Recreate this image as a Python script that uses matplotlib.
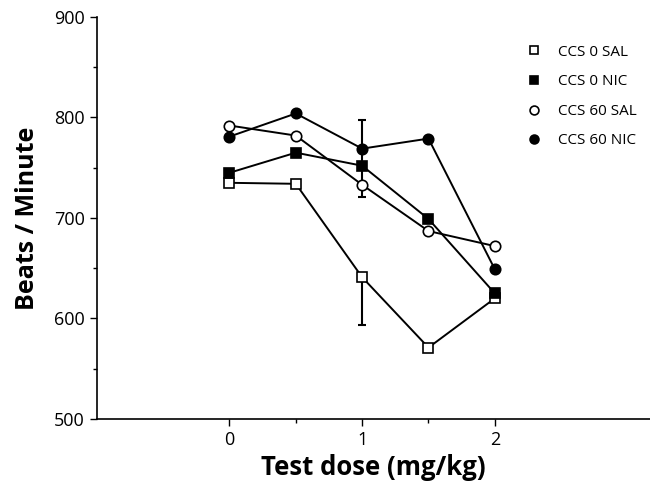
import matplotlib
matplotlib.use("Agg")
import matplotlib.pyplot as plt
from matplotlib.ticker import FixedLocator

dose = [0, 0.5, 1, 1.5, 2]
ccs0_sal = [735, 734, 641, 571, 620]
ccs0_nic = [745, 765, 752, 699, 625]
ccs60_sal = [792, 782, 733, 687, 672]
ccs60_nic = [781, 804, 769, 779, 649]
labels = ["CCS 0 SAL", "CCS 0 NIC", "CCS 60 SAL", "CCS 60 NIC"]

# error bars at dose 1
err_x = [1, 1]
err_lo = [721, 593]
err_hi = [798, 641]

plt.rcParams['font.family'] = ['Open Sans', 'DejaVu Sans']
fig = plt.figure(figsize=(6.5, 4.86), dpi=100)
ax = fig.add_axes([0.149, 0.138, 0.851, 0.827])

ax.vlines(err_x, err_lo, err_hi, color='black', lw=1.5, zorder=1)
ax.hlines(err_lo + [err_hi[0]], [0.97]*3, [1.03]*3, color='black', lw=1.5, zorder=1)

common = dict(color='black', lw=1.4, markersize=7.5, markeredgewidth=1.2)
ax.plot(dose, ccs0_sal, marker='s', markerfacecolor='white', markeredgecolor='black', label=labels[0], zorder=3, **common)
ax.plot(dose, ccs0_nic, marker='s', markerfacecolor='black', markeredgecolor='black', label=labels[1], zorder=3, **common)
ax.plot(dose, ccs60_sal, marker='o', markerfacecolor='white', markeredgecolor='black', label=labels[2], zorder=3, **common)
ax.plot(dose, ccs60_nic, marker='o', markerfacecolor='black', markeredgecolor='black', label=labels[3], zorder=3, **common)

ax.set_xlim(-1, 3.17)
ax.set_ylim(500, 900)
ax.set_xticks([0, 1, 2])
ax.xaxis.set_minor_locator(FixedLocator([0.5, 1.5]))
ax.set_yticks([500, 600, 700, 800, 900])
ax.yaxis.set_minor_locator(FixedLocator([550, 650, 750, 850]))
ax.tick_params(which='both', direction='out', labelsize=13, width=1)
ax.tick_params(which='major', length=5)
ax.tick_params(which='minor', length=3)
for s in ['top', 'right']:
    ax.spines[s].set_visible(False)
for s in ['left', 'bottom']:
    ax.spines[s].set_linewidth(1.2)

ax.set_xlabel('Test dose (mg/kg)', fontsize=18.5, fontweight='bold', labelpad=4)
ax.set_ylabel('Beats / Minute', fontsize=18, fontweight='bold', labelpad=10)

leg = ax.legend(loc='upper left', bbox_to_anchor=(0.765, 0.965), frameon=False, fontsize=11,
                handlelength=0, handletextpad=1.6, labelspacing=0.95, markerscale=0.85)
for h in leg.legend_handles:
    h.set_linestyle('none')

fig.savefig('out.png', dpi=100)
